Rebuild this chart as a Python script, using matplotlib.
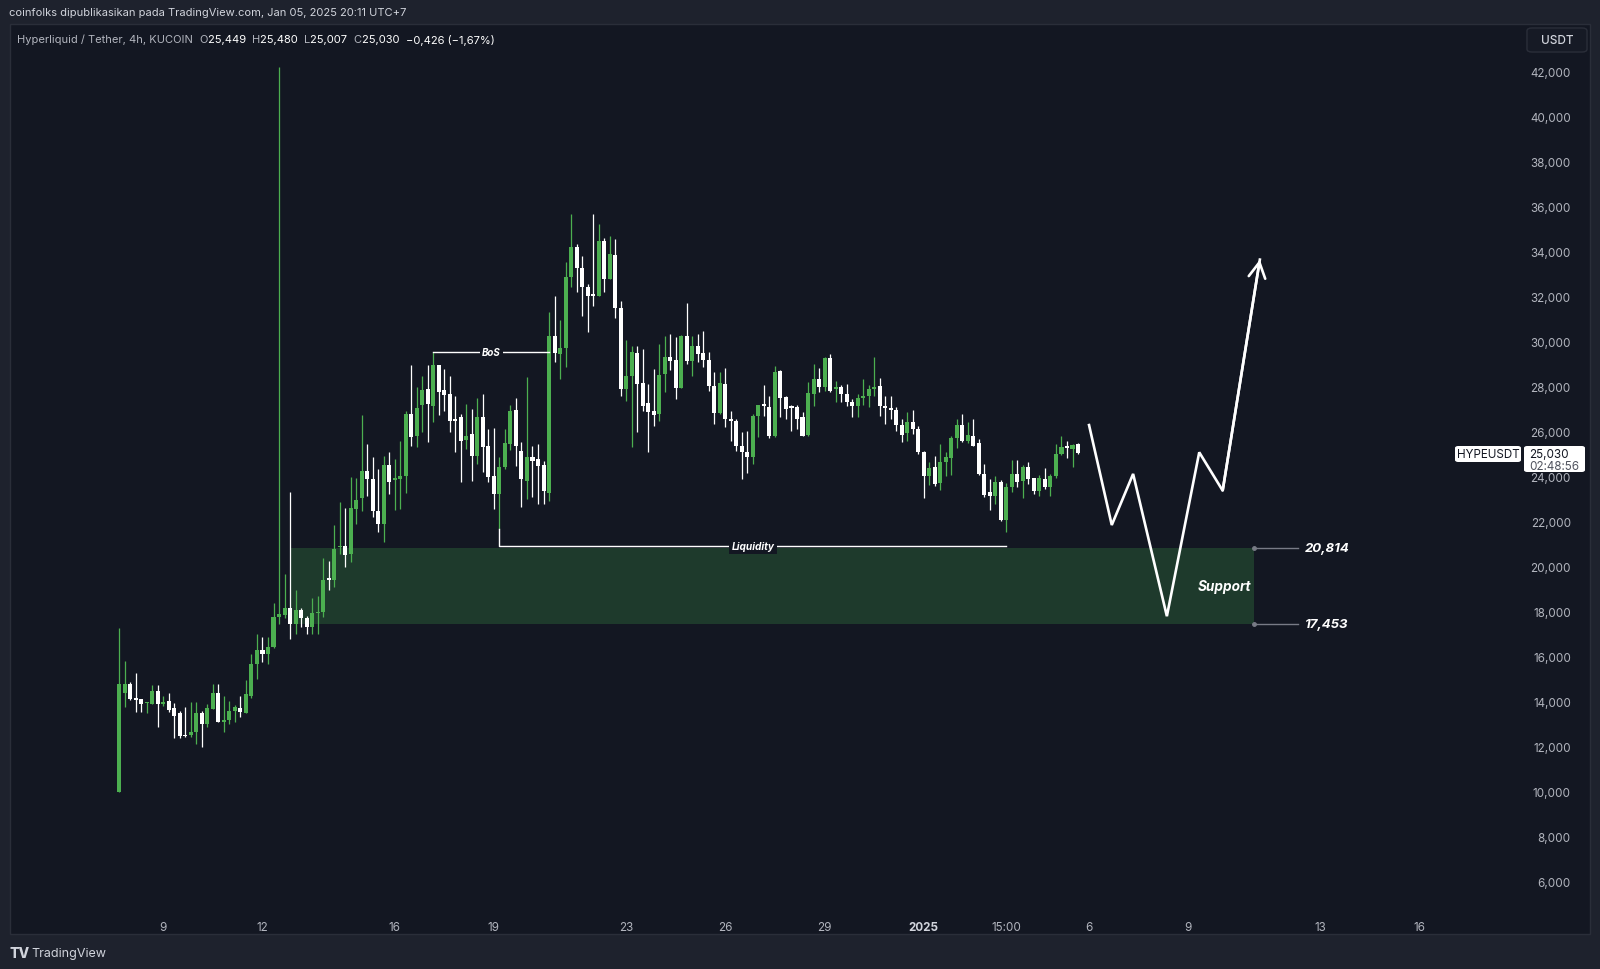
import matplotlib
matplotlib.use('Agg')
import matplotlib.pyplot as plt
import matplotlib.dates as mdates
from matplotlib.patches import Rectangle, FancyBboxPatch
import numpy as np
import pandas as pd

plt.rcParams['font.family'] = ['Inter', 'DejaVu Sans']

# ---------------- data (4h candles, HYPE/USDT) ----------------
first_candle = '2024-12-07 16:00'
opens = [9980, 14390, 14790, 14170, 14120, 13930, 13900, 14460, 13900, 14050,
         13710, 13500, 12520, 12520, 12640, 13500, 13010, 13680, 14390, 13090,
         13200, 13600, 13720, 13490, 14270, 15680, 16310, 16120, 16420, 17750,
         17850, 18150, 17450, 18080, 17720, 17300, 17930, 17970, 19500, 19420,
         20890, 20930, 20560, 22560, 23050, 24260, 23890, 22490, 21900, 24520,
         23850, 23890, 24040, 26780, 25790, 27180, 27890, 27150, 28960, 27850,
         27670, 26560, 26630, 25640, 25890, 24930, 26630, 25350, 24010, 23230,
         24410, 25450, 26960, 25150, 23820, 24860, 24780, 24520, 23270, 30260,
         29450, 29700, 32850, 34190, 33250, 32410, 32110, 32040, 34480, 32780,
         33850, 31480, 27890, 28480, 29490, 28160, 27270, 26900, 26780, 28560,
         29300, 29200, 27940, 30230, 29150, 29790, 29490, 29180, 28040, 26830,
         28110, 26560, 26490, 25350, 25110, 24860, 26710, 27230, 27110, 25790,
         28710, 27520, 27120, 27110, 26630, 25850, 27670, 28340, 27970, 29250,
         27890, 27970, 27670, 27330, 27120, 27480, 27570, 27890, 28010, 27150,
         27030, 26970, 26290, 25920, 26410, 26120, 25110, 24010, 24410, 23720,
         24630, 24810, 25700, 26310, 25600, 25820, 25480, 24120, 23300, 23120,
         23750, 22090, 23520, 24120, 23820, 24410, 23920, 23380, 23890, 23520,
         24010, 25000, 25350, 25230, 25449]
highs = [17280, 15800, 14890, 15280, 14120, 13970, 14740, 14740, 14270, 14390,
         13940, 13600, 13780, 13970, 13970, 13600, 13900, 14790, 14790, 14270,
         14050, 13860, 14270, 14980, 16120, 17010, 16860, 16860, 18390, 42200,
         19670, 23330, 18980, 18150, 17790, 18590, 18680, 20370, 20270, 21850,
         22860, 22590, 23970, 23940, 26740, 25450, 24860, 24340, 24900, 25110,
         24780, 25600, 26930, 28960, 27960, 28480, 28960, 29550, 28960, 28780,
         28480, 27600, 26780, 27230, 27000, 27480, 27670, 26120, 26150, 24860,
         26120, 27180, 27480, 25520, 28410, 25380, 25450, 24710, 31300, 32040,
         30970, 33550, 35670, 34330, 33820, 32560, 35670, 35220, 34590, 34700,
         34560, 31820, 30080, 29820, 29820, 29670, 28110, 28780, 29890, 30260,
         30340, 30190, 30290, 31710, 30260, 30340, 30450, 29550, 28630, 28630,
         28810, 26930, 26560, 25970, 26040, 26780, 27180, 28070, 27570, 28900,
         28750, 27600, 27180, 27180, 26860, 28190, 29000, 28810, 29300, 29450,
         28260, 28070, 28110, 27450, 27670, 28340, 28070, 29300, 28370, 27600,
         27570, 27080, 26560, 26860, 26970, 26230, 25150, 24630, 24900, 25450,
         25080, 25790, 26560, 26780, 26440, 26560, 25670, 24560, 23890, 24040,
         23870, 23720, 24750, 24750, 24520, 24630, 23920, 24070, 24370, 24120,
         25450, 25790, 25600, 25450, 25480]
lows = [9980, 13750, 14080, 13530, 13530, 13490, 13900, 12890, 13800, 13530,
        12380, 12380, 12420, 12420, 12120, 12000, 12860, 13680, 13090, 12670,
        13010, 13120, 13310, 13490, 14150, 15010, 15780, 15680, 16370, 17450,
        17700, 16790, 17010, 17300, 17010, 17010, 17010, 17750, 18980, 19080,
        20560, 19970, 20220, 21900, 22490, 23150, 22190, 21560, 21110, 23230,
        22530, 22560, 23270, 25380, 25300, 25970, 25550, 26440, 26740, 26930,
        25970, 25080, 23780, 25230, 23820, 24560, 24190, 23780, 22560, 21670,
        24340, 25200, 24490, 22640, 23010, 23080, 22780, 22780, 22930, 29110,
        28340, 28850, 32410, 32220, 31120, 30410, 31590, 32040, 32220, 32780,
        31030, 27600, 27370, 25300, 25970, 26930, 25080, 26260, 26490, 27770,
        28750, 27450, 27940, 29000, 28480, 29110, 28850, 27820, 26340, 26780,
        26190, 25600, 25150, 23890, 24160, 24560, 25750, 26710, 25700, 25750,
        26630, 26560, 26040, 26120, 25820, 25820, 27120, 27740, 27820, 27770,
        27300, 27300, 27120, 26630, 26630, 27180, 27080, 27600, 26680, 26340,
        26560, 26040, 25520, 25600, 25890, 25000, 23040, 23630, 23600, 23420,
        24010, 24070, 25260, 25550, 25490, 25350, 24070, 23080, 22530, 22780,
        22040, 21530, 23330, 23520, 23040, 23670, 23230, 23150, 23450, 23150,
        23920, 24960, 24810, 24410, 25007]
closes = [14790, 14790, 14120, 14090, 13900, 13970, 14460, 13900, 14000, 13650,
          13380, 12490, 12490, 12640, 13500, 13010, 13710, 14390, 13090, 13200,
          13590, 13750, 13560, 14340, 15680, 16310, 16120, 16420, 17750, 17900,
          18150, 17450, 18080, 17710, 17300, 17940, 17970, 19420, 19420, 20780,
          20930, 20520, 22590, 22980, 24260, 23890, 22490, 21900, 24520, 23750,
          23940, 24040, 26780, 25750, 27050, 27860, 27230, 28960, 27770, 27630,
          26490, 26490, 25600, 25790, 24900, 26630, 25300, 23970, 23230, 24410,
          25480, 26930, 25380, 23890, 24860, 24710, 24490, 23380, 30260, 29490,
          29700, 32850, 34190, 33250, 32410, 32040, 32040, 34480, 32780, 33890,
          31480, 27890, 28480, 29520, 28110, 27150, 26860, 26740, 28510, 29300,
          29150, 27940, 30230, 29150, 29790, 29450, 29200, 28040, 26830, 28140,
          26560, 26490, 25350, 25080, 24860, 26710, 27180, 27150, 25790, 28660,
          27480, 27000, 27060, 26560, 25820, 27710, 28340, 27970, 29250, 27820,
          27970, 27670, 27330, 27120, 27480, 27570, 27890, 27970, 27120, 27030,
          26970, 26290, 25850, 26410, 26120, 25110, 24010, 24370, 23670, 24660,
          24860, 25720, 26310, 25600, 25850, 25380, 24120, 23180, 23150, 23780,
          22090, 23520, 24120, 23780, 24410, 23890, 23380, 23920, 23520, 24040,
          25000, 25300, 25260, 25400, 25030]

# annotations
zone_top, zone_bottom = 20814, 17453
zone_start, zone_end = '2024-12-12 20:00', '2025-01-11 00:00'
bos_level = 29550
bos_start, bos_end = '2024-12-17 04:00', '2024-12-20 16:00'
liq_level = 20900
liq_top = 21670
liq_start, liq_end = '2024-12-19 04:00', '2025-01-03 12:00'
path_times = ['2025-01-06 00:00', '2025-01-06 16:30', '2025-01-07 08:00',
              '2025-01-08 08:30', '2025-01-09 08:00', '2025-01-10 01:00',
              '2025-01-11 04:00']
path_prices = [26290, 21850, 24120, 17800, 25080, 23380, 33640]

price_ticks = list(range(6000, 42001, 2000))
time_ticks = ['2024-12-09', '2024-12-12', '2024-12-16', '2024-12-19', '2024-12-23',
              '2024-12-26', '2024-12-29', '2025-01-01', '2025-01-03 12:00',
              '2025-01-06', '2025-01-09', '2025-01-13', '2025-01-16']
time_labels = ['9', '12', '16', '19', '23', '26', '29', '2025', '15:00',
               '6', '9', '13', '16']
last_price = 25030

# ---------------- colours ----------------
BG = '#131722'
OUTER = '#1e222d'
GREEN = '#4caf50'
WHITE = '#ffffff'
AXTXT = '#b2b5be'

W, H = 1600, 970
fig = plt.figure(figsize=(16, 9.7), dpi=100, facecolor=OUTER)


def fx(px):
    return px / W


def fy(py):
    return 1 - py / H


# chart panel background
fig.patches.append(Rectangle((fx(10), fy(935)), fx(1580), 910 / H, transform=fig.transFigure,
                             facecolor=BG, edgecolor='#2a2e39', lw=1, zorder=-5))

ax = fig.add_axes([fx(10), fy(912), fx(1490), 886 / H])
ax.set_zorder(2)
ax.set_facecolor('none')
for s in ax.spines.values():
    s.set_visible(False)

base = mdates.date2num(pd.Timestamp('2024-12-01').to_pydatetime())
ax.set_xlim(base + 3.363, base + 48.43)
ax.set_ylim(4705, 44061)

times = pd.date_range(first_candle, periods=len(opens), freq='4h')
x = mdates.date2num(times.to_pydatetime())
o = np.array(opens, float)
h = np.array(highs, float)
l = np.array(lows, float)
c = np.array(closes, float)
up = c >= o
cols = np.where(up, GREEN, WHITE)

ax.vlines(x, l, h, colors=cols, lw=0.9, zorder=3)
body_bottom = np.minimum(o, c)
body_h = np.maximum(np.abs(c - o), 45)
ax.bar(x, body_h, bottom=body_bottom, width=0.122, color=cols, lw=0, zorder=4)


def t(s):
    return mdates.date2num(pd.Timestamp(s).to_pydatetime())


# support zone
zs, ze = t(zone_start), t(zone_end)
ax.add_patch(Rectangle((zs, zone_bottom), ze - zs, zone_top - zone_bottom,
                       facecolor='#1e3a2c', edgecolor='none', zorder=1))
ax.text(ze - 0.1, (zone_top + zone_bottom) / 2, 'Support', color='white',
        fontsize=9.8, fontweight='bold', fontstyle='italic', ha='right', va='center', zorder=6)
for lvl in (zone_top, zone_bottom):
    ax.plot([ze, ze + 1.32], [lvl, lvl], color='#787b86', lw=1, zorder=5)
    ax.plot([ze], [lvl], 'o', color='#787b86', ms=2.5, zorder=5)
    ax.text(ze + 2.2, lvl, f'{lvl:,}', color='white', fontsize=9.5, fontweight='bold',
            fontstyle='italic', ha='center', va='center', zorder=6)

# BoS line
bs, be = t(bos_start), t(bos_end)
ax.plot([bs, be], [bos_level, bos_level], color='white', lw=1, zorder=5)
ax.text((bs + be) / 2, bos_level, 'BoS', color='white', fontsize=7, fontweight='bold',
        fontstyle='italic', ha='center', va='center', zorder=6,
        bbox=dict(facecolor=BG, edgecolor='none', pad=1.5))

# Liquidity line
ls_, le = t(liq_start), t(liq_end)
ax.plot([ls_, ls_, le], [liq_top, liq_level, liq_level], color='white', lw=1, zorder=5)
ax.text((ls_ + le) / 2, liq_level, 'Liquidity', color='white', fontsize=7.3, fontweight='bold',
        fontstyle='italic', ha='center', va='center', zorder=6,
        bbox=dict(facecolor=BG, edgecolor='none', pad=1.5))

# projected path
pxs = [t(s) for s in path_times]
ax.plot(pxs, path_prices, color='white', lw=1.9, solid_joinstyle='miter', zorder=6)
ax.annotate('', xy=(pxs[-1], path_prices[-1]), xytext=(pxs[-2], path_prices[-2]),
            arrowprops=dict(arrowstyle='->,head_length=0.55,head_width=0.3', color='white',
                            lw=1.9, mutation_scale=20, shrinkA=0, shrinkB=0), zorder=6)

# axes ticks
ax.set_yticks(price_ticks)
ax.set_yticklabels([f'{v:,}' for v in price_ticks])
ax.yaxis.tick_right()
ax.tick_params(axis='y', length=0, pad=51, labelsize=8.4, labelcolor=AXTXT)
for lab in ax.get_yticklabels():
    lab.set_ha('right')

ax.set_xticks([t(s) for s in time_ticks])
ax.set_xticklabels(time_labels)
ax.tick_params(axis='x', length=0, pad=7, labelsize=8.4, labelcolor=AXTXT)
for lab in ax.get_xticklabels():
    if lab.get_text() == '2025':
        lab.set_fontweight('bold')
        lab.set_color('#d1d4dc')

# last price labels
fig.patches.append(FancyBboxPatch((fx(1455), fy(463)), fx(66), 16 / H,
                                  boxstyle='round,pad=0,rounding_size=0.002',
                                  transform=fig.transFigure, facecolor='white',
                                  edgecolor='none', zorder=10))
fig.text(fx(1488), fy(455), 'HYPEUSDT', color='#131722', fontsize=8.4, ha='center',
         va='center', zorder=11)
fig.patches.append(FancyBboxPatch((fx(1524), fy(473)), fx(61), 26 / H,
                                  boxstyle='round,pad=0,rounding_size=0.002',
                                  transform=fig.transFigure, facecolor='white',
                                  edgecolor='none', zorder=10))
fig.text(fx(1529), fy(454.5), f'{last_price:,}', color='#131722', fontsize=8.4,
         ha='left', va='center', zorder=11)
fig.text(fx(1529), fy(467.5), '02:48:56', color='#50535e', fontsize=8.4,
         ha='left', va='center', zorder=11)

# USDT box
fig.patches.append(FancyBboxPatch((fx(1527), fy(53)), fx(60), 24 / H,
                                  boxstyle='round,pad=0,rounding_size=0.003',
                                  transform=fig.transFigure, facecolor='#161a25',
                                  edgecolor='#2a2e39', lw=1, zorder=10))
fig.text(fx(1557), fy(41), 'USDT', color='#d1d4dc', fontsize=8.5, ha='center',
         va='center', fontweight='medium', zorder=11)

# header / legend / footer
fig.text(fx(9), fy(13), 'coinfolks dipublikasikan pada TradingView.com, Jan 05, 2025 20:11 UTC+7',
         color='#d1d4dc', fontsize=8.0, ha='left', va='center')

legend_parts = [('Hyperliquid / Tether, 4h, KUCOIN  ', '#b2b5be'), ('O', '#b2b5be'),
                ('25,449  ', 'white'), ('H', '#b2b5be'), ('25,480  ', 'white'),
                ('L', '#b2b5be'), ('25,007  ', 'white'), ('C', '#b2b5be'),
                ('25,030  ', 'white'), ('\u22120,426 (\u22121,67%)', 'white')]
fig.canvas.draw()
renderer = fig.canvas.get_renderer()
xpos = 17
for txt, col in legend_parts:
    tt = fig.text(fx(xpos), fy(40), txt, color=col, fontsize=8.0, ha='left', va='center')
    bb = tt.get_window_extent(renderer=renderer)
    xpos += bb.width

fig.text(fx(9), fy(954), 'TV', color='#d1d4dc', fontsize=10, fontweight='heavy',
         ha='left', va='center')
fig.text(fx(31), fy(954), 'TradingView', color='#d1d4dc', fontsize=9, ha='left', va='center')

fig.savefig('out.png', dpi=100, facecolor=OUTER)
